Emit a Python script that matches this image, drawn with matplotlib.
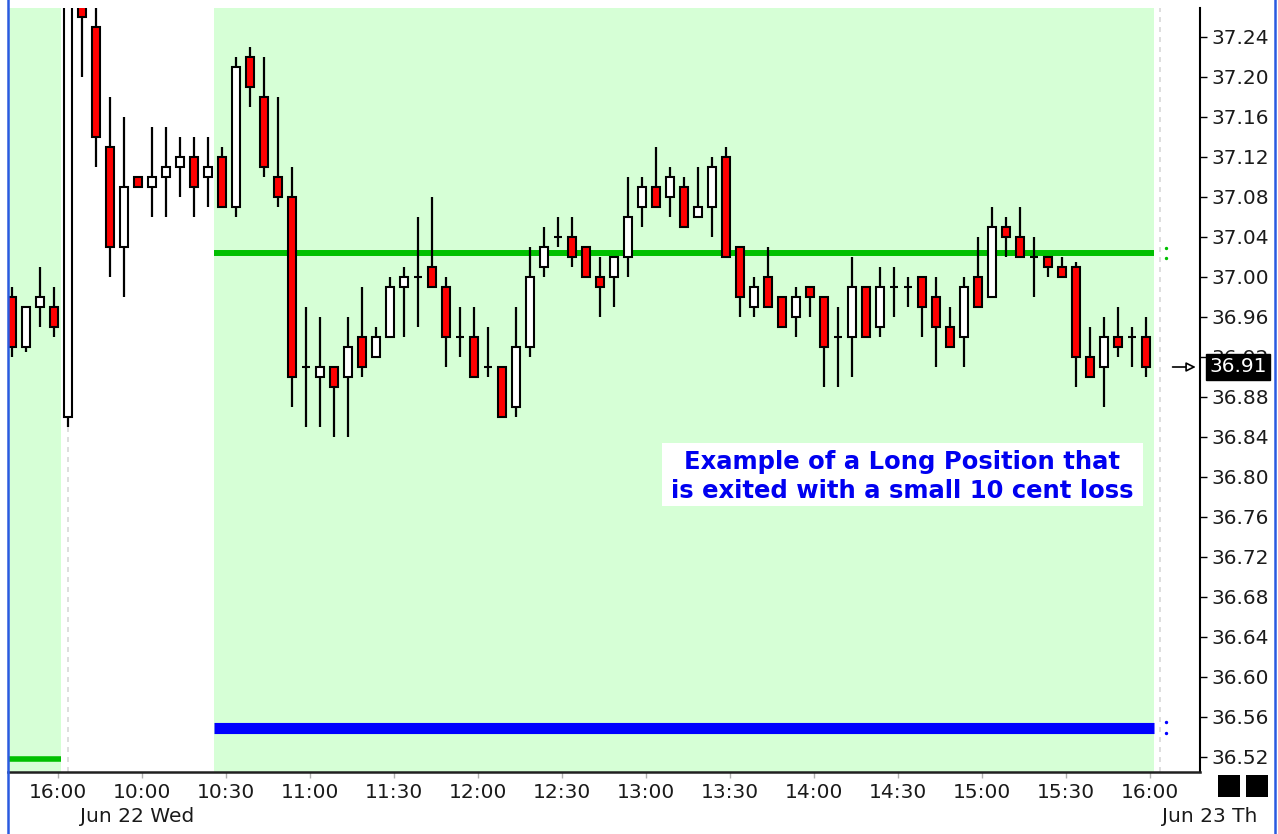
import numpy as np
import matplotlib
matplotlib.use("Agg")
import matplotlib.pyplot as plt
from matplotlib.patches import Rectangle
from matplotlib.lines import Line2D

# 5 minute bars: last 4 bars of Jun 21 then the Jun 22 session
opens = [36.98, 36.93, 36.97, 36.97, 36.86, 37.30, 37.25, 37.13, 37.03, 37.10,
         37.09, 37.10, 37.11, 37.12, 37.10, 37.12, 37.07, 37.22, 37.18, 37.10,
         37.08, 36.91, 36.90, 36.91, 36.90, 36.94, 36.92, 36.94, 36.99, 37.00,
         37.01, 36.99, 36.94, 36.94, 36.91, 36.91, 36.87, 36.93, 37.01, 37.04,
         37.04, 37.03, 37.00, 37.00, 37.02, 37.07, 37.09, 37.08, 37.09, 37.06,
         37.07, 37.12, 37.03, 36.97, 37.00, 36.98, 36.96, 36.99, 36.98, 36.94,
         36.94, 36.99, 36.95, 36.99, 36.99, 37.00, 36.98, 36.95, 36.94, 37.00,
         36.98, 37.05, 37.04, 37.02, 37.02, 37.01, 37.01, 36.92, 36.91, 36.94,
         36.94, 36.94]
highs = [36.99, 36.97, 37.01, 36.99, 37.32, 37.33, 37.29, 37.18, 37.16, 37.10,
         37.15, 37.15, 37.14, 37.14, 37.14, 37.13, 37.22, 37.23, 37.22, 37.18,
         37.11, 36.97, 36.96, 36.91, 36.96, 36.99, 36.95, 37.00, 37.01, 37.06,
         37.08, 37.00, 36.97, 36.97, 36.95, 36.91, 36.97, 37.03, 37.05, 37.06,
         37.06, 37.03, 37.02, 37.02, 37.10, 37.10, 37.13, 37.11, 37.10, 37.11,
         37.12, 37.13, 37.03, 37.00, 37.03, 36.98, 36.99, 36.99, 36.98, 36.97,
         37.02, 36.99, 37.01, 37.01, 37.00, 37.00, 37.00, 36.97, 37.00, 37.04,
         37.07, 37.06, 37.07, 37.04, 37.02, 37.02, 37.015, 36.95, 36.96, 36.97,
         36.95, 36.96]
lows = [36.92, 36.925, 36.95, 36.94, 36.85, 37.20, 37.11, 37.00, 36.98, 37.09,
        37.06, 37.06, 37.08, 37.06, 37.07, 37.07, 37.06, 37.17, 37.10, 37.07,
        36.87, 36.85, 36.85, 36.84, 36.84, 36.90, 36.92, 36.94, 36.94, 36.95,
        36.99, 36.91, 36.92, 36.90, 36.90, 36.86, 36.86, 36.92, 37.00, 37.03,
        37.01, 37.00, 36.96, 36.97, 37.00, 37.05, 37.07, 37.06, 37.05, 37.06,
        37.04, 37.02, 36.96, 36.96, 36.97, 36.95, 36.94, 36.96, 36.89, 36.89,
        36.90, 36.94, 36.94, 36.96, 36.97, 36.94, 36.91, 36.93, 36.91, 36.97,
        36.98, 37.02, 37.02, 36.98, 37.00, 37.00, 36.89, 36.90, 36.87, 36.92,
        36.91, 36.90]
closes = [36.93, 36.97, 36.98, 36.95, 37.30, 37.26, 37.14, 37.03, 37.09, 37.09,
          37.10, 37.11, 37.12, 37.09, 37.11, 37.07, 37.21, 37.19, 37.11, 37.08,
          36.90, 36.91, 36.91, 36.89, 36.93, 36.91, 36.94, 36.99, 37.00, 37.00,
          36.99, 36.94, 36.94, 36.90, 36.91, 36.86, 36.93, 37.00, 37.03, 37.04,
          37.02, 37.00, 36.99, 37.02, 37.06, 37.09, 37.07, 37.10, 37.05, 37.07,
          37.11, 37.02, 36.98, 36.99, 36.97, 36.95, 36.98, 36.98, 36.93, 36.94,
          36.99, 36.94, 36.99, 36.99, 36.99, 36.97, 36.95, 36.93, 36.99, 36.97,
          37.05, 37.04, 37.02, 37.02, 37.01, 37.00, 36.92, 36.90, 36.94, 36.93,
          36.94, 36.91]

time_labels = ["16:00", "10:00", "10:30", "11:00", "11:30", "12:00", "12:30",
               "13:00", "13:30", "14:00", "14:30", "15:00", "15:30", "16:00"]
time_label_bars = list(range(3, 82, 6))
price_ticks = [36.52, 36.56, 36.60, 36.64, 36.68, 36.72, 36.76, 36.80, 36.84,
               36.88, 36.92, 36.96, 37.00, 37.04, 37.08, 37.12, 37.16, 37.20, 37.24]

entry_price = 37.024
stop_price = 36.5495
prev_line = 36.518
last_price = 36.91

W, H = 1278, 834
fig = plt.figure(figsize=(W / 100, H / 100), dpi=100)
fig.patch.set_facecolor("white")
ax = fig.add_axes([8 / W, 1 - 772 / H, (1200 - 8) / W, (772 - 8) / H])
ax.set_xlim(-0.286, 84.857)
ax.set_ylim(36.505, 37.269)

shade = "#d6ffd6"
ax.axvspan(-1, 3.5, color=shade, lw=0, zorder=0)
ax.axvspan(14.4, 81.6, color=shade, lw=0, zorder=0)

# session separators
for xs in (4, 82):
    ax.axvline(xs, color="#d8d8d8", lw=1.2, ls=(0, (3, 3)), zorder=0.5)

# position lines
ax.hlines(entry_price, 14.45, 81.55, color="#00c000", lw=4.3, zorder=1)
ax.hlines(stop_price, 14.45, 81.55, color="#0000ff", lw=8, zorder=1)
ax.hlines(prev_line, -0.3, 3.5, color="#00c000", lw=4, zorder=1)
ax.scatter([82.4, 82.4], [entry_price + 0.005, entry_price - 0.005], s=2, color="#00c000", zorder=2, clip_on=False)
ax.scatter([82.4, 82.4], [stop_price + 0.005, stop_price - 0.005], s=2, color="#0000ff", zorder=2, clip_on=False)

# candles
x = np.arange(len(opens))
o = np.array(opens)
c = np.array(closes)
ax.vlines(x, lows, highs, color="black", lw=1.6, zorder=3)
colors = np.where(c >= o, "white", "#ff0000")
ax.bar(x, c - o, bottom=o, width=0.64, color=colors, edgecolor="black", linewidth=1.5, zorder=4)

# note box
ax.add_patch(Rectangle((46.43, 36.771), 34.36, 0.063, facecolor="white", edgecolor="none", zorder=5))
ax.text(63.57, 36.8005, "Example of a Long Position that\nis exited with a small 10 cent loss",
        ha="center", va="center", color="#0000f0", fontsize=17.5, fontweight="bold",
        family="DejaVu Sans", linespacing=1.3, zorder=6)

# axes styling
for s in ("top", "left"):
    ax.spines[s].set_visible(False)
ax.spines["right"].set_linewidth(1.5)
ax.spines["bottom"].set_linewidth(1.8)
ax.spines["bottom"].set_color("#202020")

ax.yaxis.tick_right()
ax.set_yticks(price_ticks)
ax.set_yticklabels([f"{p:.2f}" for p in price_ticks])
ax.tick_params(axis="y", direction="out", length=5, width=1, pad=3, labelsize=14.5, labelcolor="#1a1a1a")

ax.set_xticks(np.array(time_label_bars) + 0.25)
ax.set_xticklabels(time_labels)
ax.tick_params(axis="x", direction="out", length=4, width=1, color="#b0b0b0", pad=4, labelsize=14.5, labelcolor="#1a1a1a")

# last price marker
ax.annotate("", xy=(84.75, last_price), xytext=(82.7, last_price),
            arrowprops=dict(arrowstyle="-|>", color="black", lw=1.2, fc="white", mutation_scale=14),
            annotation_clip=False)
ax.annotate("36.91", xy=(1.0, last_price), xycoords=ax.get_yaxis_transform(),
            xytext=(9, 0), textcoords="offset pixels", ha="left", va="center",
            color="white", fontsize=14.5, zorder=10, annotation_clip=False,
            bbox=dict(boxstyle="square,pad=0.15", fc="black", ec="black"))

# date row and scale buttons
fig.text(137 / W, 1 - 817 / H, "Jun 22 Wed", ha="center", va="center", fontsize=14.5, color="#1a1a1a")
fig.text(1162 / W, 1 - 817 / H, "Jun 23 Th", ha="left", va="center", fontsize=14.5, color="#1a1a1a")
for left in (1218, 1246):
    fig.add_artist(Rectangle((left / W, 1 - 797 / H), 22 / W, 22 / H, transform=fig.transFigure,
                             facecolor="black", edgecolor="none"))

# window frame
fig.add_artist(Line2D([8 / W, 8 / W], [0, 1], color="#2a5ae0", lw=1.8))
fig.add_artist(Line2D([1275 / W, 1275 / W], [0, 1], color="#2a5ae0", lw=1.8))

fig.savefig("out.png", dpi=100)
